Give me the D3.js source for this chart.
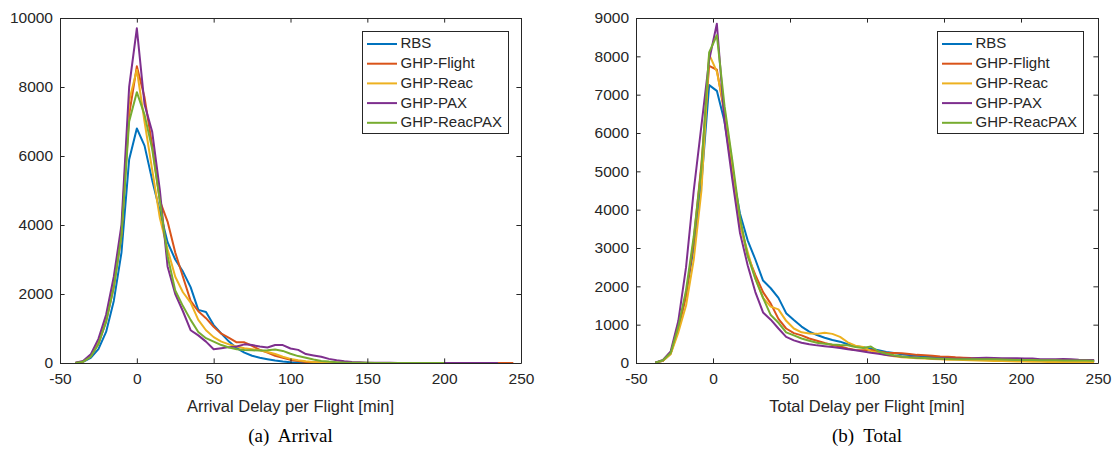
<!DOCTYPE html>
<html>
<head>
<meta charset="utf-8">
<script src="https://cdn.jsdelivr.net/npm/d3@7"></script>
<style>
  html, body { margin: 0; padding: 0; background: #fff; }
  svg { display: block; }
  text { font-family: "Liberation Sans", Arial, Helvetica, sans-serif; fill: #262626; }
  .cap { font-family: "Liberation Serif", "Times New Roman", serif; fill: #000; }
</style>
</head>
<body>
<svg id="chart" width="1112" height="450"></svg>
<script>
// ---------- DATA ----------
const seriesNames = ["RBS", "GHP-Flight", "GHP-Reac", "GHP-PAX", "GHP-ReacPAX"];
const seriesColors = ["#0072BD", "#D95319", "#EDB120", "#7E2F8E", "#77AC30"];

// (a) Arrival delay bins [min]
const arrivalBins = [-40,-35,-30,-25,-20,-15,-10,-5,0,5,10,15,20,25,30,35,40,45,50,55,60,65,70,75,80,85,90,95,100,105,110,115,120,125,130,135,140,145,150,155,160,165,170,175,180,185,190,195,200,205,210,215,220,225,230,235,240,245];
const arrivalRBS = [0,30,150,400,900,1800,3200,5900,6800,6300,5300,4400,3500,3000,2650,2200,1540,1480,1100,850,620,430,300,210,150,110,70,45,25,15,8,5,3,2,1,1,0,0,0,0,0,0,0,0,0,0,0,0,0];
const arrivalFlight = [0,40,200,550,1200,2200,3700,7200,8600,7700,6300,4700,4100,3200,2500,1800,1500,1300,1050,850,730,600,600,500,380,300,210,150,90,60,30,20,12,8,5,4,3,3,2,2,2,2,2,2,2,2,2,2,2,2,2,2,2,2,2,2,2,2];
const arrivalReac = [0,40,200,600,1300,2300,3800,7600,8500,7000,5600,4200,3300,2500,2050,1750,1250,950,750,620,540,480,430,400,370,320,260,180,120,80,50,30,15,10,5,3,2,1,1,1,0,0,0,0,0,0,0,0,0];
const arrivalPAX = [10,60,250,700,1400,2500,4000,8000,9700,7500,6700,5000,2800,2000,1500,950,800,620,400,430,460,480,540,520,480,450,520,520,420,380,260,220,180,120,80,50,30,20,10,6,5,4,3,3,3,3,3,3,3,3,3,3,3,3,3,2];
const arrivalReacPAX = [0,40,180,550,1200,2200,3700,7000,7850,7200,6200,4700,3100,2100,1650,1250,900,720,620,520,450,400,380,370,360,370,390,350,270,200,150,100,60,40,25,15,10,6,4,3,2,1,1,0,0,0,0,0,0];

// (b) Total delay bins [min]
const totalBins = [-37.5,-32.5,-27.5,-22.5,-17.5,-12.5,-7.5,-2.5,2.5,7.5,12.5,17.5,22.5,27.5,32.5,37.5,42.5,47.5,52.5,57.5,62.5,67.5,72.5,77.5,82.5,87.5,92.5,97.5,102.5,107.5,112.5,117.5,122.5,127.5,132.5,137.5,142.5,147.5,152.5,157.5,162.5,167.5,172.5,177.5,182.5,187.5,192.5,197.5,202.5,207.5,212.5,217.5,222.5,227.5,232.5,237.5,242.5,247.5];
const totalRBS = [10,60,250,900,1800,3000,4700,7250,7100,6300,5000,3900,3200,2700,2150,1950,1700,1300,1120,950,820,730,660,600,557,490,440,410,370,330,290,260,230,210,190,175,160,150,140,130,122,115,108,102,97,92,88,84,80,76,72,68,64,61,58,55,53,52];
const totalFlight = [10,60,250,900,1750,3200,5200,7750,7650,6500,5100,3700,2800,2300,1850,1550,1150,900,780,720,640,580,520,470,430,380,340,335,340,300,270,262,255,235,212,200,188,172,165,150,140,128,122,115,108,100,96,92,88,84,80,78,72,68,62,58,54,52];
const totalReac = [10,60,230,800,1500,2700,4500,8050,7600,6600,5200,3600,2900,2200,1700,1470,1400,1100,900,800,770,760,790,760,680,540,450,420,310,260,210,175,150,135,125,115,105,95,88,82,78,72,65,58,54,50,45,40,36,33,30,28,27,26,26,26,25,25];
const totalPAX = [10,80,300,1100,2500,4500,6200,7900,8850,6300,4800,3400,2550,1850,1320,1130,900,680,590,530,490,460,440,420,390,360,330,300,265,240,210,190,172,160,145,130,122,118,115,113,113,120,130,138,130,125,122,122,120,118,100,96,100,104,95,85,80,78];
const totalReacPAX = [10,70,260,950,1900,3300,5100,8100,8550,6700,5300,3800,2800,2200,1700,1250,1050,800,720,640,580,530,500,480,470,465,420,390,430,300,240,200,170,150,138,128,120,112,106,100,96,96,96,96,95,90,85,80,78,76,74,72,70,68,66,64,62,61];

const xTicks = [-50, 0, 50, 100, 150, 200, 250];
const yTicksArrival = [0, 2000, 4000, 6000, 8000, 10000];
const yTicksTotal = [0, 1000, 2000, 3000, 4000, 5000, 6000, 7000, 8000, 9000];

const panels = [
  { bins: arrivalBins, series: [arrivalRBS, arrivalFlight, arrivalReac, arrivalPAX, arrivalReacPAX],
    yMax: 10000, yTicks: yTicksArrival, xLabel: "Arrival Delay per Flight [min]", caption: "(a)\u00A0 Arrival",
    left: 60, right: 521, legendX: 362 },
  { bins: totalBins, series: [totalRBS, totalFlight, totalReac, totalPAX, totalReacPAX],
    yMax: 9000, yTicks: yTicksTotal, xLabel: "Total Delay per Flight [min]", caption: "(b)\u00A0 Total",
    left: 636, right: 1098, legendX: 937 }
];

// ---------- DRAW ----------
const svg = d3.select("#chart");
const plotTop = 18, plotBottom = 363;
const axisColor = "#262626";
const tickLen = 4.6;
const fmt = d => String(d);

panels.forEach(p => {
  const x = d3.scaleLinear().domain([-50, 250]).range([p.left, p.right]);
  const y = d3.scaleLinear().domain([0, p.yMax]).range([plotBottom, plotTop]);
  const g = svg.append("g");

  // lines
  const line = d3.line().x(d => x(d[0])).y(d => y(d[1]));
  p.series.forEach((vals, i) => {
    const pts = vals.map((v, k) => [p.bins[k], v]);
    g.append("path").datum(pts)
      .attr("fill", "none")
      .attr("stroke", seriesColors[i])
      .attr("stroke-width", 2)
      .attr("stroke-linejoin", "round")
      .attr("d", line);
  });

  // axes (MATLAB style, ticks inside, box)
  const xAxis = d3.axisBottom(x).tickValues(xTicks).tickFormat(fmt).tickSizeInner(-tickLen).tickSizeOuter(0).tickPadding(10);
  const yAxis = d3.axisLeft(y).tickValues(p.yTicks).tickFormat(fmt).tickSizeInner(-tickLen).tickSizeOuter(0).tickPadding(7);
  const xTop = d3.axisTop(x).tickValues(xTicks).tickSizeInner(-tickLen).tickSizeOuter(0).tickFormat("");
  const yRight = d3.axisRight(y).tickValues(p.yTicks).tickSizeInner(-tickLen).tickSizeOuter(0).tickFormat("");

  const styleAxis = sel => {
    sel.attr("font-family", null).attr("font-size", null);
    sel.selectAll("path").attr("stroke", axisColor).attr("stroke-width", 1);
    sel.selectAll("line").attr("stroke", axisColor).attr("stroke-width", 1);
    sel.selectAll("text").attr("fill", axisColor).style("font-size", "15.5px")
      .style("font-family", '"Liberation Sans", Arial, Helvetica, sans-serif');
  };

  g.append("g").attr("transform", `translate(0,${plotBottom})`).call(xAxis).call(styleAxis);
  g.append("g").attr("transform", `translate(${p.left},0)`).call(yAxis).call(styleAxis);
  g.append("g").attr("transform", `translate(0,${plotTop})`).call(xTop).call(styleAxis);
  g.append("g").attr("transform", `translate(${p.right},0)`).call(yRight).call(styleAxis);

  // x label
  g.append("text")
    .attr("x", (p.left + p.right) / 2).attr("y", 408)
    .attr("text-anchor", "middle").attr("dominant-baseline", "middle")
    .style("font-size", "16.5px")
    .text(p.xLabel);

  // caption
  g.append("text").attr("class", "cap")
    .attr("x", (p.left + p.right) / 2).attr("y", 438)
    .attr("text-anchor", "middle").attr("dominant-baseline", "middle")
    .style("font-size", "19px")
    .text(p.caption);

  // legend
  const lg = g.append("g");
  const lx = p.legendX, ly = 31, lw = 146, lh = 102;
  lg.append("rect").attr("x", lx + 0.5).attr("y", ly + 0.5).attr("width", lw).attr("height", lh)
    .attr("fill", "#fff").attr("stroke", axisColor).attr("stroke-width", 1);
  seriesNames.forEach((name, i) => {
    const yy = ly + 13 + i * 19.7;
    lg.append("line").attr("x1", lx + 5).attr("x2", lx + 35).attr("y1", yy).attr("y2", yy)
      .attr("stroke", seriesColors[i]).attr("stroke-width", 2);
    lg.append("text").attr("x", lx + 38.5).attr("y", yy + 0.5)
      .attr("dominant-baseline", "middle").style("font-size", "15px").attr("fill", "#000")
      .text(name);
  });
});
</script>
</body>
</html>
